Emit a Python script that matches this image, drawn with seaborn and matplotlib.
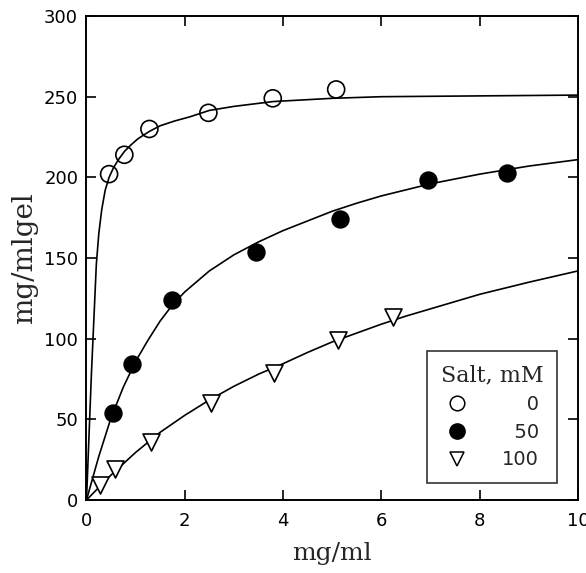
import numpy as np
import pandas as pd
import matplotlib
matplotlib.use("Agg")
import matplotlib.pyplot as plt
from matplotlib.lines import Line2D
import seaborn as sns

# --- data ---
salt_levels = ["0", "50", "100"]

x0 = [0.46, 0.77, 1.28, 2.48, 3.79, 5.08]
y0 = [202, 214, 230, 240, 249, 254.5]

x50 = [0.53, 0.92, 1.73, 3.44, 5.15, 6.94, 8.55]
y50 = [54, 84, 124, 154, 174, 198.5, 203]

x100 = [0.28, 0.58, 1.31, 2.53, 3.81, 5.12, 6.23]
y100 = [9.5, 19.5, 36, 60, 79, 99, 113.5]

# fitted curves
cx0 = [0, 0.1, 0.2, 0.25, 0.31, 0.38, 0.46, 0.55, 0.65, 0.77, 0.9, 1.05,
       1.28, 1.5, 1.8, 2.1, 2.5, 3.0, 3.8, 5.0, 6.0, 8.0, 10.0]
cy0 = [0, 78, 146, 165, 180, 192, 200, 206, 211, 216, 220, 224,
       228.5, 232, 235, 237.5, 241.5, 244, 247, 249, 250, 250.5, 251]

cx50 = [0, 0.25, 0.5, 0.75, 1.0, 1.25, 1.5, 1.75, 2.0, 2.5, 3.0, 3.5, 4.0,
        4.5, 5.0, 5.5, 6.0, 7.0, 8.0, 9.0, 10.0]
cy50 = [0, 27, 51, 70, 86, 99, 111, 121, 129, 142, 152, 160, 167,
        173, 179, 184, 188.5, 196, 202, 207, 211]

cx100 = [0, 0.5, 1.0, 1.5, 2.0, 2.5, 3.0, 3.5, 4.0, 4.5, 5.0, 5.5, 6.0,
         6.5, 7.0, 8.0, 9.0, 10.0]
cy100 = [0, 15.5, 29.5, 42, 52.5, 62, 70.5, 78, 84.5, 91.5, 98, 103.5, 109,
         114, 118.5, 127.5, 135, 142]

xticks = [0, 2, 4, 6, 8, 10]
yticks = [0, 50, 100, 150, 200, 250, 300]

# --- style ---
sns.set_style("ticks")
plt.rcParams["font.family"] = ["DejaVu Sans"]

fig = plt.figure(figsize=(5.86, 5.73), dpi=100)
ax = fig.add_axes([0.1476, 0.1274, 0.8387, 0.8446])

curves = pd.concat([
    pd.DataFrame({"x": cx0, "y": cy0, "salt": "0"}),
    pd.DataFrame({"x": cx50, "y": cy50, "salt": "50"}),
    pd.DataFrame({"x": cx100, "y": cy100, "salt": "100"}),
])
for s in salt_levels:
    d = curves[curves.salt == s]
    sns.lineplot(data=d, x="x", y="y", ax=ax, color="black", lw=1.2,
                 sort=False, estimator=None, legend=False)

ms = 150
sns.scatterplot(x=x0, y=y0, ax=ax, marker="o", s=ms, facecolors="none",
                edgecolor="black", linewidth=1.2, zorder=3, legend=False)
sns.scatterplot(x=x50, y=y50, ax=ax, marker="o", s=ms, color="black",
                edgecolor="black", zorder=3, legend=False)
sns.scatterplot(x=x100, y=y100, ax=ax, marker="v", s=ms, facecolors="white",
                edgecolor="black", linewidth=1.2, zorder=3, legend=False)

ax.set_xlim(0, 10)
ax.set_ylim(0, 300)
ax.set_xticks(xticks)
ax.set_yticks(yticks)
ax.set_xticklabels([str(t) for t in xticks])
ax.set_yticklabels([str(t) for t in yticks])
ax.tick_params(direction="in", length=7, width=1.2, top=True, right=True,
               labelsize=13, colors="black")
ax.tick_params(axis="x", labeltop=False, pad=9)
ax.tick_params(axis="y", labelright=False, pad=6)
for sp in ax.spines.values():
    sp.set_visible(True)
    sp.set_linewidth(1.4)
    sp.set_color("black")

ax.set_xlabel("mg/ml", family="DejaVu Serif", fontsize=18, labelpad=8)
ax.set_ylabel("mg/mlgel", family="DejaVu Serif", fontsize=20, labelpad=4)

fs = "\u2007"
handles = [
    Line2D([], [], marker="o", ls="none", markersize=10.5, markerfacecolor="none",
           markeredgecolor="black", markeredgewidth=1.1),
    Line2D([], [], marker="o", ls="none", markersize=11, markerfacecolor="black",
           markeredgecolor="black"),
    Line2D([], [], marker="v", ls="none", markersize=10, markerfacecolor="white",
           markeredgecolor="black", markeredgewidth=1.1),
]
labels = [fs + fs + "0", fs + "50", "100"]
leg = ax.legend(handles, labels, title="Salt, mM", loc="lower right",
                bbox_to_anchor=(0.957, 0.035), frameon=True, fancybox=False,
                edgecolor="black", fontsize=14, handletextpad=1.7,
                borderpad=0.7, labelspacing=0.45, handlelength=1.2,
                borderaxespad=0.0,
                title_fontproperties={"family": "DejaVu Serif", "size": 16})
leg.get_frame().set_linewidth(1.2)

fig.savefig("out.png", dpi=100)
